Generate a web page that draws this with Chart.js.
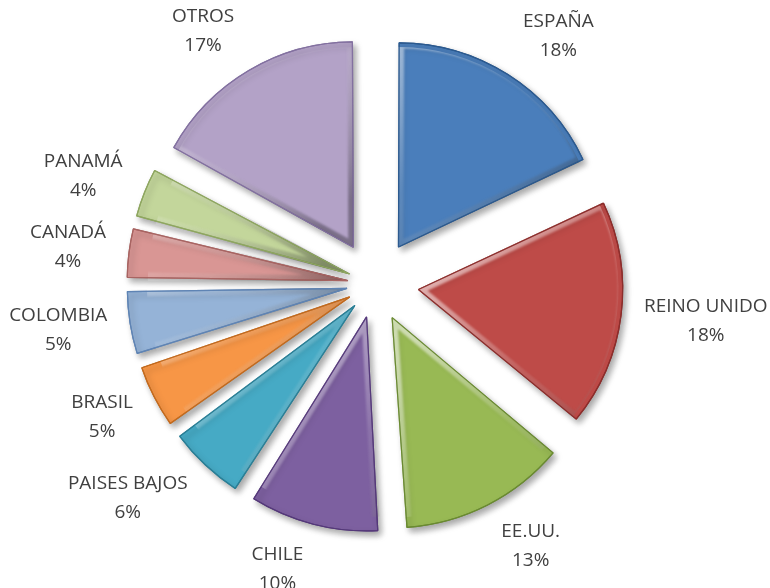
<!DOCTYPE html>
<html>
<head>
<meta charset="utf-8">
<script src="https://cdn.jsdelivr.net/npm/chart.js@4"></script>
<style>
  html, body { margin: 0; padding: 0; background: #ffffff; }
  #wrap { width: 770px; height: 588px; }
</style>
</head>
<body>
<div id="wrap"><canvas id="PaisesPieChart" width="770" height="588"></canvas></div>
<script>
const paises = ['ESPAÑA', 'REINO UNIDO', 'EE.UU.', 'CHILE', 'PAISES BAJOS', 'BRASIL', 'COLOMBIA', 'CANADÁ', 'PANAMÁ', 'OTROS'];
const porcentajes = [18, 18, 13, 10, 6, 5, 5, 4, 4, 17];
const colores = ['#4a7ebb', '#be4b48', '#98b954', '#7d60a0', '#46aac5', '#f79646', '#95b3d7', '#d99694', '#c3d69b', '#b3a2c7'];
const bordes = ['#2c5a8f', '#8c2d2b', '#6a8a32', '#55397a', '#2a7f96', '#c26a1e', '#5f84b4', '#a86462', '#8ea660', '#8371a0'];

const separacion = 48;

// Chart.js moves an arc by offset/4 * (2 - sin(circumference)), so undo that
function desplazamiento(context) {
    const total = porcentajes.reduce((s, v) => s + v, 0);
    const circ = porcentajes[context.dataIndex] / total * Math.PI * 2;
    return 4 * separacion / (2 - Math.sin(Math.min(Math.PI, circ)));
}

// shadow under the slices, then a light/dark rim + outline for the bevel look
const relieve = {
    id: 'relieve',
    beforeDatasetsDraw(chart) {
        const ctx = chart.ctx;
        ctx.save();
        ctx.shadowColor = 'rgba(0,0,0,0.35)';
        ctx.shadowBlur = 6;
        ctx.shadowOffsetX = 3;
        ctx.shadowOffsetY = 4;
    },
    afterDatasetsDraw(chart) {
        const ctx = chart.ctx;
        ctx.restore();
        chart.getDatasetMeta(0).data.forEach((arc, i) => {
            const p = arc.getProps(['x', 'y', 'startAngle', 'endAngle', 'outerRadius'], true);
            const a = (p.startAngle + p.endAngle) / 2;
            const mx = p.x + Math.cos(a) * (separacion + p.outerRadius * 0.6);
            const my = p.y + Math.sin(a) * (separacion + p.outerRadius * 0.6);
            const k = p.outerRadius * 0.45;
            const g = ctx.createLinearGradient(mx - k, my - k, mx + k, my + k);
            g.addColorStop(0, 'rgba(255,255,255,0.55)');
            g.addColorStop(0.5, 'rgba(255,255,255,0.12)');
            g.addColorStop(1, 'rgba(0,0,0,0.3)');

            ctx.save();
            ctx.filter = 'blur(1.2px)';
            const rim = Object.create(arc);
            rim.options = Object.assign({}, arc.options, {
                backgroundColor: 'rgba(0,0,0,0)',
                borderColor: g,
                borderWidth: 5,
                borderAlign: 'inner'
            });
            rim.draw(ctx);
            ctx.restore();

            const edge = Object.create(arc);
            edge.options = Object.assign({}, arc.options, {
                backgroundColor: 'rgba(0,0,0,0)',
                borderColor: bordes[i],
                borderWidth: 1.2,
                borderAlign: 'center'
            });
            edge.draw(ctx);
        });
    }
};

const etiquetas = {
    id: 'etiquetas',
    afterDraw(chart) {
        const ctx = chart.ctx;
        const meta = chart.getDatasetMeta(0);
        ctx.save();
        ctx.font = '19px "Open Sans", sans-serif';
        ctx.fillStyle = '#404040';
        ctx.textAlign = 'center';
        ctx.textBaseline = 'middle';
        const lineH = 29;
        const clamp = v => Math.max(-1, Math.min(1, v));
        meta.data.forEach((arc, i) => {
            const p = arc.getProps(['x', 'y', 'startAngle', 'endAngle', 'outerRadius'], true);
            const a = (p.startAngle + p.endAngle) / 2;
            const d = p.outerRadius + separacion + 17;
            const lines = [paises[i], porcentajes[i] + '%'];
            const w = Math.max(...lines.map(t => ctx.measureText(t).width));
            const h = lineH * 2;
            const cx = p.x + Math.cos(a) * d + clamp(Math.cos(a) * 4) * (w / 2 + 6);
            const cy = p.y + Math.sin(a) * d + Math.sin(a) * h / 2;
            ctx.fillText(lines[0], cx, cy - lineH / 2);
            ctx.fillText(lines[1], cx, cy + lineH / 2);
        });
        ctx.restore();
    }
};

new Chart(document.getElementById('PaisesPieChart').getContext('2d'), {
    type: 'pie',
    data: {
        labels: paises,
        datasets: [{
            data: porcentajes,
            backgroundColor: colores,
            borderColor: bordes,
            borderWidth: 1.2,
            offset: desplazamiento
        }]
    },
    options: {
        responsive: false,
        animation: false,
        radius: 200,
        layout: { padding: { left: 0, right: 20, top: 0, bottom: 20 } },
        plugins: {
            legend: { display: false },
            tooltip: { enabled: false }
        }
    },
    plugins: [relieve, etiquetas]
});
</script>
</body>
</html>
